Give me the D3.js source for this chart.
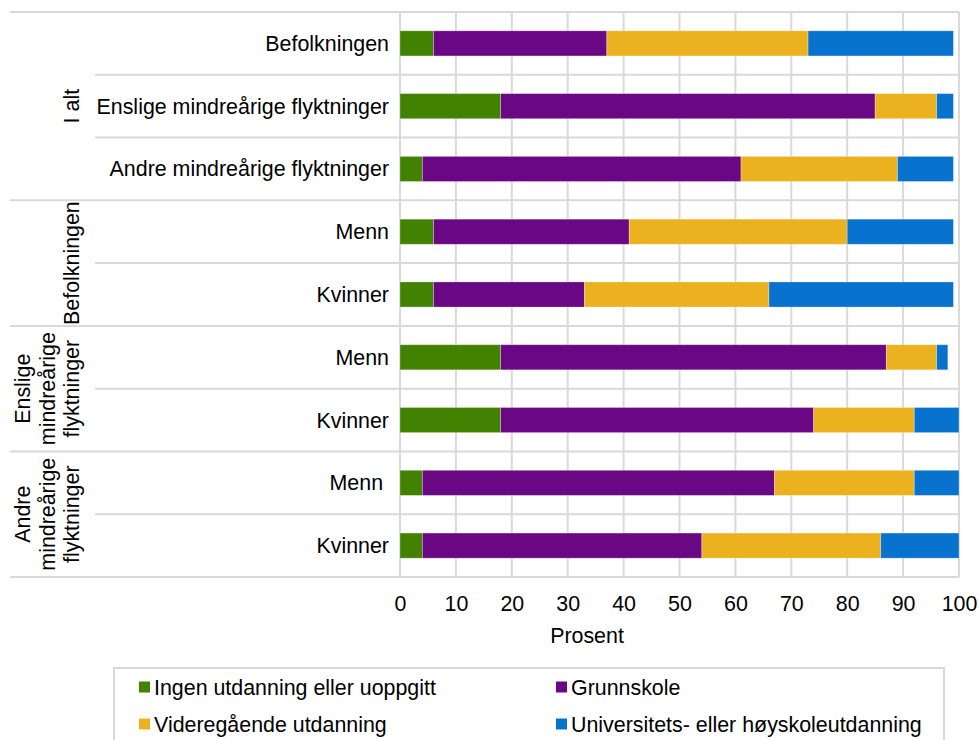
<!DOCTYPE html>
<html>
<head>
<meta charset="utf-8">
<script src="https://cdn.jsdelivr.net/npm/d3@7"></script>
<style>
  body { margin: 0; background: #fff; }
  text { font-family: "Liberation Sans", Arial, sans-serif; fill: #000; }
</style>
</head>
<body>
<div id="chart"></div>
<script>
// rows, top to bottom
const rowLabels = [
  "Befolkningen",
  "Enslige mindreårige flyktninger",
  "Andre mindreårige flyktninger",
  "Menn", "Kvinner",
  "Menn", "Kvinner",
  "Menn\u00a0", "Kvinner"
];
const groupLabels = [
  ["I alt"],
  ["Befolkningen"],
  ["Enslige", "mindreårige", "flyktninger"],
  ["Andre", "mindreårige", "flyktninger"]
];
const groupSizes = [3, 2, 2, 2];

const seriesNames = [
  "Ingen utdanning eller uoppgitt",
  "Grunnskole",
  "Videregående utdanning",
  "Universitets- eller høyskoleutdanning"
];
const ingen = [6, 18, 4, 6, 6, 18, 18, 4, 4];
const grunnskole = [31, 67, 57, 35, 27, 69, 56, 63, 50];
const videregaende = [36, 11, 28, 39, 33, 9, 18, 25, 32];
const universitet = [26, 3, 10, 19, 33, 2, 8, 8, 14];
const xTicks = [0, 10, 20, 30, 40, 50, 60, 70, 80, 90, 100];

const width = 979;
const height = 740;
const plot = { left: 400, right: 959, top: 12, bottom: 577 };
const fontSize = 21.4;

const colourScale = d3
  .scaleOrdinal()
  .domain(seriesNames)
  .range(["#428200", "#690785", "#ecb11f", "#0872cf"]);

const rows = rowLabels.map((label, i) => ({
  id: i,
  label: label,
  [seriesNames[0]]: ingen[i],
  [seriesNames[1]]: grunnskole[i],
  [seriesNames[2]]: videregaende[i],
  [seriesNames[3]]: universitet[i]
}));

const stacked = d3.stack().keys(seriesNames)(rows);

const xScale = d3.scaleLinear().domain([0, 100]).range([plot.left, plot.right]);

const yScale = d3
  .scaleBand()
  .domain(rows.map(d => d.id))
  .range([plot.top, plot.bottom])
  .paddingInner(0.6)
  .paddingOuter(0.3);

const step = yScale.step();
const rowTop = i => yScale(i) - (yScale.paddingInner() * step) / 2;

const svg = d3
  .select("#chart")
  .append("svg")
  .attr("width", width)
  .attr("height", height);

// grid
const grid = svg.append("g").attr("class", "grid");
grid
  .selectAll("line")
  .data(xTicks)
  .enter()
  .append("line")
  .attr("x1", d => xScale(d))
  .attr("x2", d => xScale(d))
  .attr("y1", plot.top)
  .attr("y2", plot.bottom)
  .style("stroke", "#d9d9d9")
  .style("stroke-width", 2);

// horizontal separators: full width at group edges, short inside groups
const groupStarts = [];
let acc = 0;
groupSizes.forEach(n => {
  groupStarts.push(acc);
  acc += n;
});
const sepRows = d3.range(rows.length + 1);
grid
  .selectAll(".sep")
  .data(sepRows)
  .enter()
  .append("line")
  .attr("class", "sep")
  .attr("x1", d => (groupStarts.includes(d) || d === rows.length ? 10 : 95))
  .attr("x2", plot.right)
  .attr("y1", d => (d === rows.length ? plot.bottom : rowTop(d)))
  .attr("y2", d => (d === rows.length ? plot.bottom : rowTop(d)))
  .style("stroke", "#d9d9d9")
  .style("stroke-width", 2);

// bars
const layers = svg
  .append("g")
  .attr("class", "bars")
  .selectAll("g")
  .data(stacked)
  .enter()
  .append("g")
  .style("fill", d => colourScale(d.key));

layers
  .selectAll("rect")
  .data(d => d)
  .enter()
  .append("rect")
  .attr("x", d => xScale(d[0]))
  .attr("width", d => xScale(d[1]) - xScale(d[0]))
  .attr("y", d => yScale(d.data.id))
  .attr("height", yScale.bandwidth())
  .style("stroke", "rgba(255,255,255,0.35)")
  .style("stroke-width", 0.8);

// row labels
svg
  .append("g")
  .selectAll("text")
  .data(rows)
  .enter()
  .append("text")
  .attr("x", 389)
  .attr("y", d => yScale(d.id) + yScale.bandwidth() / 2)
  .attr("dy", "0.35em")
  .attr("text-anchor", "end")
  .style("font-size", fontSize + "px")
  .style("white-space", "pre")
  .text(d => d.label);

// group labels, rotated
groupLabels.forEach((lines, g) => {
  const start = groupStarts[g];
  const end = start + groupSizes[g];
  const cy = (rowTop(start) + (end === rows.length ? plot.bottom : rowTop(end))) / 2;
  const t = svg
    .append("text")
    .attr("transform", `translate(79,${cy}) rotate(-90)`)
    .attr("text-anchor", "middle")
    .style("font-size", fontSize + "px");
  lines.forEach((line, i) => {
    t.append("tspan")
      .attr("x", 0)
      .attr("y", -(lines.length - 1 - i) * 24.5)
      .text(line);
  });
});

// x axis
const xAxis = d3
  .axisBottom(xScale)
  .tickValues(xTicks)
  .tickSize(0)
  .tickPadding(19);

const xxAxis = svg
  .append("g")
  .attr("class", "x axis")
  .attr("transform", `translate(0, ${plot.bottom})`)
  .call(xAxis);
xxAxis.select(".domain").remove();
xxAxis
  .selectAll("text")
  .style("font-size", fontSize + "px")
  .style("fill", "#000")
  .style("font-family", '"Liberation Sans", Arial, sans-serif');

svg
  .append("text")
  .attr("x", 587)
  .attr("y", 643)
  .attr("text-anchor", "middle")
  .style("font-size", fontSize + "px")
  .text("Prosent");

// legend
const legend = svg.append("g").attr("class", "legend");
legend
  .append("rect")
  .attr("x", 114)
  .attr("y", 668)
  .attr("width", 830)
  .attr("height", 90)
  .style("fill", "#fff")
  .style("stroke", "#d9d9d9")
  .style("stroke-width", 2);

const legendItems = legend
  .selectAll(".legend-item")
  .data(seriesNames)
  .enter()
  .append("g")
  .attr("class", "legend-item")
  .attr("transform", (d, i) => `translate(${i % 2 === 0 ? 139 : 556}, ${i < 2 ? 687 : 724})`);

legendItems
  .append("rect")
  .attr("x", 0)
  .attr("y", -5.5)
  .attr("width", 11)
  .attr("height", 11)
  .style("fill", d => colourScale(d));

legendItems
  .append("text")
  .attr("x", 15)
  .attr("dy", "0.35em")
  .style("font-size", fontSize + "px")
  .text(d => d);
</script>
</body>
</html>
